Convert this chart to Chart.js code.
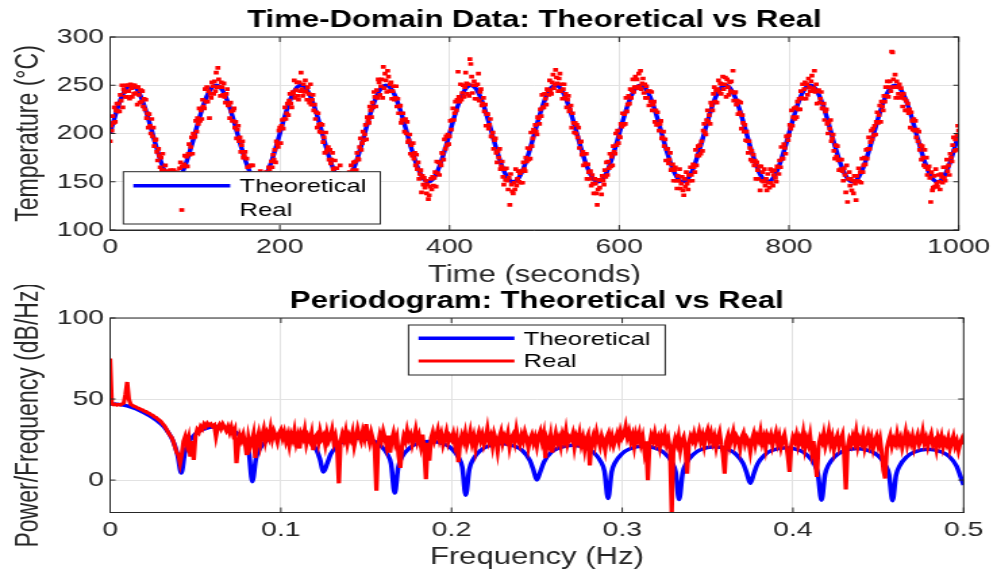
<!DOCTYPE html>
<html lang="en">
<head>
<meta charset="UTF-8">
<title>Theoretical vs Real</title>
<script src="https://cdn.jsdelivr.net/npm/chart.js"></script>
<style>
    html, body { margin: 0; padding: 0; background: #fff; }
    body { width: 997px; height: 571px; overflow: hidden; }
    canvas { display: block; }
</style>
</head>
<body>
<canvas id="timeChart" width="738" height="285" style="width:997px;height:285px"></canvas>
<canvas id="psdChart" width="738" height="286" style="width:997px;height:286px"></canvas>
<script>
// ---- time domain ----
const timeTicks = [0, 200, 400, 600, 800, 1000];
const tempTicks = [100, 150, 200, 250, 300];
const theoStep = 5;   // seconds between theoretical samples
const realStep = 1;   // seconds between measured samples

const theoreticalTemp = [
    200,215.5,229.4,240.5,247.6,250,247.6,240.5,229.4,215.5,200,184.5,170.6,159.5,152.4,150,152.4,159.5,170.6,184.5,
    200,215.5,229.4,240.5,247.6,250,247.6,240.5,229.4,215.5,200,184.5,170.6,159.5,152.4,150,152.4,159.5,170.6,184.5,
    200,215.5,229.4,240.5,247.6,250,247.6,240.5,229.4,215.5,200,184.5,170.6,159.5,152.4,150,152.4,159.5,170.6,184.5,
    200,215.5,229.4,240.5,247.6,250,247.6,240.5,229.4,215.5,200,184.5,170.6,159.5,152.4,150,152.4,159.5,170.6,184.5,
    200,215.5,229.4,240.5,247.6,250,247.6,240.5,229.4,215.5,200,184.5,170.6,159.5,152.4,150,152.4,159.5,170.6,184.5,
    200,215.5,229.4,240.5,247.6,250,247.6,240.5,229.4,215.5,200,184.5,170.6,159.5,152.4,150,152.4,159.5,170.6,184.5,
    200,215.5,229.4,240.5,247.6,250,247.6,240.5,229.4,215.5,200,184.5,170.6,159.5,152.4,150,152.4,159.5,170.6,184.5,
    200,215.5,229.4,240.5,247.6,250,247.6,240.5,229.4,215.5,200,184.5,170.6,159.5,152.4,150,152.4,159.5,170.6,184.5,
    200,215.5,229.4,240.5,247.6,250,247.6,240.5,229.4,215.5,200,184.5,170.6,159.5,152.4,150,152.4,159.5,170.6,184.5,
    200,215.5,229.4,240.5,247.6,250,247.6,240.5,229.4,215.5,200,184.5,170.6,159.5,152.4,150,152.4,159.5,170.6,184.5,
    200
];

const realTemp = [
    192,208,203,218,211,227,212,224,231,223, 231,223,240,234,250,227,246,243,238,250,
    238,250,244,236,251,247,238,250,241,250, 242,248,230,248,240,232,245,233,244,228,
    236,225,235,216,221,206,220,208,200,215, 197,206,187,193,194,181,172,184,177,165,
    175,162,179,162,156,167,158,147,161,156, 148,162,149,143,155,162,147,151,140,160,
    154,148,164,170,155,166,153,168,177,166, 176,166,179,189,178,186,196,179,200,196,

    197,213,202,216,210,226,213,224,215,235, 228,226,246,233,248,233,244,216,241,237,
    253,249,241,254,244,263,248,268,256,248, 239,253,248,240,252,238,232,241,246,229,
    230,216,232,223,213,224,226,206,212,195, 204,208,192,196,181,188,192,175,177,181,
    159,174,165,156,166,157,167,155,167,147, 155,159,147,152,141,156,148,161,138,156,
    151,146,158,146,160,155,147,165,163,156, 171,165,178,173,183,170,192,189,186,203,

    206,190,208,214,205,215,227,215,221,231, 219,234,241,231,227,243,241,255,237,245,
    253,239,235,253,244,263,246,239,251,243, 255,244,235,248,241,232,251,230,235,240,
    224,230,215,222,206,221,209,202,210,201, 209,191,196,180,201,181,183,186,173,183,
    169,173,180,163,164,172,158,164,153,159, 151,167,147,152,158,144,153,140,155,145,
    154,142,160,153,167,152,162,170,154,171, 162,180,174,173,186,195,183,190,202,193,

    199,209,194,217,213,211,228,224,217,232, 227,243,238,228,245,237,256,253,240,249,
    256,237,269,247,262,255,243,265,259,244, 251,253,236,244,249,235,237,249,228,236,
    221,228,229,211,214,221,214,202,215,200, 212,191,193,199,179,188,177,190,174,180,
    167,178,163,170,153,158,162,139,156,147, 154,144,151,138,147,132,136,145,153,142,
    155,146,154,160,145,171,159,170,157,170, 167,180,179,173,194,184,197,188,199,189,

    197,213,204,214,226,214,221,233,224,235, 264,238,233,251,235,242,250,238,248,263,
    252,241,251,239,277,272,259,242,250,254, 236,250,236,251,262,234,243,246,229,231,
    237,223,230,208,220,220,205,209,215,197, 197,201,184,193,195,180,170,182,175,184,
    163,166,171,155,147,163,152,164,151,142, 154,126,158,147,140,138,149,142,163,146,
    153,161,150,159,149,161,149,170,163,161, 175,171,185,173,184,174,201,187,195,204,

    202,209,202,199,217,216,210,225,218,240, 227,227,241,236,230,246,245,240,255,245,
    241,253,261,247,251,266,258,252,244,257, 262,244,251,236,246,251,237,241,227,235,
    239,223,225,229,206,221,211,201,211,200, 209,196,206,185,191,192,178,181,167,179,
    169,179,153,168,160,153,161,146,157,148, 138,153,148,138,126,142,152,144,152,137,
    156,151,147,162,155,170,157,171,164,179, 166,176,167,187,181,179,200,188,203,190,

    197,196,210,207,221,209,220,210,237,223, 230,239,231,246,237,245,256,243,248,259,
    248,256,247,262,249,265,246,252,257,242, 251,237,249,237,244,229,244,233,243,224,
    230,233,212,224,209,222,210,203,210,213, 195,196,202,187,194,172,184,184,169,173,
    180,162,163,168,151,162,165,151,143,156, 151,163,143,148,155,141,136,153,145,160,
    148,142,157,151,165,157,151,168,165,160, 183,167,177,187,177,188,179,192,182,203,

    210,201,199,214,224,212,219,210,232,229, 224,241,248,233,245,232,246,255,243,252,
    241,251,259,246,251,258,238,256,248,240, 253,244,254,243,265,234,242,243,230,234,
    220,233,222,232,205,219,211,202,209,193, 202,192,180,192,185,173,182,171,178,167,
    172,153,170,162,153,166,141,166,151,160, 150,163,146,153,141,158,149,144,163,149,
    161,146,157,162,154,150,166,165,158,172, 165,186,174,174,189,185,179,197,197,193,

    198,209,205,224,208,217,226,215,227,217, 233,225,236,225,244,237,251,236,246,253,
    236,251,240,257,248,244,254,260,244,247, 265,243,251,231,244,245,232,236,243,226,
    226,231,214,223,225,210,200,212,205,214, 192,195,199,182,174,188,176,187,172,162,
    173,163,173,161,151,164,157,139,167,129, 153,160,146,153,141,151,138,156,148,131,
    156,151,164,150,160,149,174,160,167,175, 168,183,174,184,196,184,191,203,194,205,

    198,208,199,212,222,211,219,229,212,233, 228,224,239,233,248,239,254,238,248,254,
    244,285,284,256,248,261,237,254,248,241, 251,237,247,239,228,241,236,224,234,224,
    231,221,225,206,222,213,204,215,203,213, 196,204,192,202,183,188,173,187,175,167,
    183,165,175,157,163,166,154,129,160,141, 144,156,145,163,148,145,157,150,142,158,
    155,149,165,154,151,165,173,161,167,157, 179,175,171,188,196,182,194,183,198,208,
    203
];

// ---- periodogram ----
const freqTicks = [0, 0.1, 0.2, 0.3, 0.4, 0.5];
const psdTicks = [0, 50, 100];
const freqStep = 0.001;  // Hz between periodogram bins

const theoFreq = [
    0, 0.005, 0.01, 0.015, 0.02, 0.025, 0.03, 0.033, 0.036, 0.038, 0.0396,
    0.0417, 0.0438, 0.0459, 0.05, 0.0542, 0.0625, 0.0708, 0.075, 0.0792, 0.0813,
    0.0833, 0.0854, 0.0875, 0.0917, 0.0958, 0.1042, 0.1125, 0.1167, 0.1208, 0.1229,
    0.125, 0.1271, 0.1292, 0.1333, 0.1375, 0.1458, 0.1542, 0.1583, 0.1625, 0.1646,
    0.1667, 0.1688, 0.1708, 0.175, 0.1792, 0.1875, 0.1958, 0.2, 0.2042, 0.2063,
    0.2083, 0.2104, 0.2125, 0.2167, 0.2208, 0.2292, 0.2375, 0.2417, 0.2458, 0.2479,
    0.25, 0.2521, 0.2542, 0.2583, 0.2625, 0.2708, 0.2792, 0.2833, 0.2875, 0.2896,
    0.2917, 0.2938, 0.2958, 0.3, 0.3042, 0.3125, 0.3208, 0.325, 0.3292, 0.3313,
    0.3333, 0.3354, 0.3375, 0.3417, 0.3458, 0.3542, 0.3625, 0.3667, 0.3708, 0.3729,
    0.375, 0.3771, 0.3792, 0.3833, 0.3875, 0.3958, 0.4042, 0.4083, 0.4125, 0.4146,
    0.4167, 0.4188, 0.4208, 0.425, 0.4292, 0.4375, 0.4458, 0.45, 0.4542, 0.4563,
    0.4583, 0.4604, 0.4625, 0.4667, 0.4708, 0.4792, 0.4875, 0.4917, 0.4958, 0.4979,
    0.5
];
const theoPsd = [
    47, 46.7, 45.8, 44, 41.5, 38.5, 34.5, 31, 26, 21, 15,
    4.3, 17, 23, 28.5, 31.2, 33, 31.2, 28.4, 22.8, 17,
    -1, 13, 19, 24.4, 27.2, 29, 27.2, 24.4, 18.8, 13,
    5, 10, 16, 21.4, 24.2, 26, 24.2, 21.4, 15.8, 10,
    -8, 8, 14, 19.4, 22.2, 24, 22.2, 19.4, 13.8, 8,
    -9.3, 6.5, 12.5, 18, 20.7, 22.5, 20.7, 18, 12.3, 6.5,
    0, 5.5, 11.3, 17, 19.7, 21.5, 19.7, 17, 11.3, 5.5,
    -11.3, 5, 10.8, 16.4, 19.2, 21, 19.2, 16.4, 10.8, 5,
    -12, 4.5, 10.3, 15.9, 18.7, 20.5, 18.7, 15.9, 10.3, 4.5,
    -2, 4, 9.8, 15.4, 18.2, 20, 18.2, 15.4, 9.8, 4,
    -12.4, 3.5, 9.3, 14.9, 17.7, 19.5, 17.7, 14.9, 9.3, 3.5,
    -12.8, 3, 8.8, 14.4, 17.2, 19, 17.2, 14.4, 8.8, 3,
    -3
];

const realPsd = [
    75,
    47,46.5,46.8,46.3,46.7,46.4,47,47.5,53,60.5,
    50,46.8,46.2,45.5,45.2,44.5,44.2,43.6,43.3,42.5,
    42.3,41.5,41.2,40.3,40,39,38.6,37.6,36.8,35.9,
    34.5,33.2,31.5,29.5,27.8,26.5,24,20.5,17,15.5,
    10.5,16,24,27,22,26,14.4,24,12.4,27,
    31,29.5,33,31.5,34.5,33,35,33.8,34.6,33.2,
    34,27,32.5,34.2,31.8,34.5,32.6,30.5,33,29.5,
    32.8,28.6,31,10.5,21,27.5,24.5,28,23,15.5,
    26,20.5,24,28.5,13.6,25,29,22,27.5,31.5,
    24,28.8,26,32,25.5,30,27,23.5,29,31,
    26,29.5,24,27.8,21.5,28,25,30.5,23,27,
    19.5,28.5,26,31,22.5,27,24.5,29,18.5,26.5,
    28,23,30,25.5,27.5,22,29,24,26.5,31,
    23.5,27,20,-2,24,28.5,25,30,22.5,27.5,
    25,29.5,21,26,31.5,27,24,30,26,34.5,
    27,23,29,25,19,-6.6,22,28,24.5,30,
    26,21,27.5,17,25,29,23,26.5,15,7.5,
    21,27,24,30.5,25.5,28,22,26,31,24,
    27.5,21.5,28,18,0.5,23,12,26,29.5,24,
    27,31,25,28.5,22,26,30,23.5,27,25,
    28.5,22,26,11,23,27.5,24,29,21.5,25,
    30,23,27,19.5,26,29.5,24.5,28,22,25.5,
    31.5,24,27,21,28.5,25,18,26.5,30,23,
    27,24.5,29,20.5,26,28,23.5,31,25,22,
    27.5,24,29.5,26,20,25.5,28,23,26.5,21,
    27,30,24,28.5,13.5,25,22,27.5,17,24.5,
    29,23,26,21,28,24.5,30.5,22.5,26.5,25,
    28.5,20.5,27,24,29,22,26,19,25.5,28,
    9,24,27.5,22.5,29.5,25,21,27,23.5,18.5,
    26.5,29,23,27,21.5,25,28.5,24,30,26,
    28,33,26.5,30,24,27.5,21,28.5,25,29,
    22.5,26.5,18,24,0,22,27.5,24.5,29,23,
    26,20.5,27,24,28.5,22,25.5,19,-20.4,21,
    25.5,22,27,18.5,24,26.5,20,4,22.5,27,
    24.5,28.5,23,26,30,24,27.5,21.5,28,31,
    25,29,23.5,27,20.5,26,29.5,22,16,4,
    24,27.5,21.5,26,30,23,27,25,19.5,26.5,
    29,22.5,26,24,17.5,25,28.5,22,27,24.5,
    30,23,26.5,20,27.5,25,28,21.5,26,29.5,
    23,27,20.5,25,28,22,15,5,21,26.5,
    24,28,21.5,26,23,29,20,25.5,22,27.5,
    18,24,12,2,21,26,23.5,28.5,21,25,
    30,22.5,26.5,19,24.5,27.5,21,25,28,16,
    -5.8,20,25,22,27,23.5,29.5,21,25.5,23,
    27.5,20,24.5,28,22,26,19.5,24,27,21.5,
    25.5,17,6,1,19.5,24,27.5,21,25,22.5,
    28.5,23,26,20,24.5,29.5,22,26.5,23,27,
    20.5,25,28,22,24.5,30,23,26,21,25.5,
    28.5,22,24,19,26.5,23,27,20.5,24.5,22,
    26,19.5,23.5,27,21,24,18.5,23,25.5,22
];

const axisColor = '#262626';
const gridColor = '#e2e2e2';
const fontFamily = '"Liberation Sans", Arial, Helvetica, sans-serif';
Chart.defaults.font.family = fontFamily;

// full box around the axes plus short inward tick marks
const axesBox = {
    id: 'axesBox',
    afterDatasetsDraw(chart) {
        const { ctx, chartArea: a, scales } = chart;
        ctx.save();
        ctx.strokeStyle = axisColor;
        ctx.lineWidth = 1;
        ctx.strokeRect(a.left, a.top, a.right - a.left, a.bottom - a.top);
        ctx.beginPath();
        scales.x.ticks.forEach(t => {
            const px = scales.x.getPixelForValue(t.value);
            ctx.moveTo(px, a.bottom); ctx.lineTo(px, a.bottom - 5);
            ctx.moveTo(px, a.top); ctx.lineTo(px, a.top + 5);
        });
        scales.y.ticks.forEach(t => {
            const py = scales.y.getPixelForValue(t.value);
            ctx.moveTo(a.left, py); ctx.lineTo(a.left + 4, py);
            ctx.moveTo(a.right, py); ctx.lineTo(a.right - 4, py);
        });
        ctx.stroke();
        ctx.restore();
    }
};

// legend drawn inside the axes like the original figure
const boxLegend = {
    id: 'boxLegend',
    afterDraw(chart, args, opts) {
        const { ctx, chartArea: a } = chart;
        const left = opts.center ? (a.left + a.right - opts.width) / 2 : a.left + opts.offsetX;
        const top = opts.fromBottom ? a.bottom - opts.offsetY - opts.height : a.top + opts.offsetY;
        ctx.save();
        ctx.fillStyle = '#fff';
        ctx.fillRect(left, top, opts.width, opts.height);
        ctx.strokeStyle = axisColor;
        ctx.lineWidth = 1;
        ctx.strokeRect(left, top, opts.width, opts.height);
        ctx.font = opts.fontSize + 'px ' + fontFamily;
        ctx.textBaseline = 'middle';
        opts.items.forEach((idx, row) => {
            const ds = chart.data.datasets[idx];
            const y = top + opts.firstRow + row * opts.rowGap;
            const x0 = left + opts.sampleLeft;
            const x1 = x0 + opts.sampleLength;
            if (ds.showLine === false) {
                const s = ds.pointRadius * Math.SQRT2;
                ctx.fillStyle = ds.backgroundColor;
                ctx.fillRect((x0 + x1) / 2 - s / 2, y - s / 2, s, s);
            } else {
                ctx.strokeStyle = ds.borderColor;
                ctx.lineWidth = ds.borderWidth;
                ctx.beginPath();
                ctx.moveTo(x0, y);
                ctx.lineTo(x1, y);
                ctx.stroke();
            }
            ctx.fillStyle = '#000';
            ctx.fillText(ds.label, left + opts.textLeft, y + 1);
        });
        ctx.restore();
    }
};

function xScale(min, max, ticks, title, height, titleLineHeight) {
    return {
        type: 'linear', min: min, max: max,
        afterBuildTicks: s => { s.ticks = ticks.map(v => ({ value: v })); },
        afterFit: s => { s.height = height; },
        ticks: { padding: 5, color: axisColor, font: { size: 21 }, maxRotation: 0, callback: v => String(v) },
        grid: { color: gridColor, drawTicks: false },
        border: { color: axisColor, width: 1 },
        title: { display: true, text: title, color: axisColor, font: { size: 23, lineHeight: titleLineHeight }, padding: 0 }
    };
}

function yScale(min, max, ticks, title) {
    return {
        min: min, max: max,
        afterBuildTicks: s => { s.ticks = ticks.map(v => ({ value: v })); },
        afterFit: s => { s.width = 81.5; },
        ticks: { padding: 4.5, color: axisColor, font: { size: 21 }, callback: v => String(v) },
        grid: { color: gridColor, drawTicks: false },
        border: { color: axisColor, width: 1 },
        title: { display: true, text: title, color: axisColor, font: { size: 23 }, padding: { top: 7.5, bottom: 0 } }
    };
}

new Chart(document.getElementById('timeChart'), {
    type: 'scatter',
    data: {
        datasets: [{
            label: 'Theoretical',
            data: theoreticalTemp.map((v, i) => ({ x: i * theoStep, y: v })),
            showLine: true,
            borderColor: '#0000ff',
            borderWidth: 3.5,
            pointRadius: 0,
            cubicInterpolationMode: 'monotone',
            order: 1
        }, {
            label: 'Real',
            data: realTemp.map((v, i) => ({ x: i * realStep, y: v })),
            showLine: false,
            backgroundColor: '#ff0000',
            pointStyle: 'rect',
            pointRadius: 2.6,
            pointBorderWidth: 0,
            order: 0
        }]
    },
    options: {
        responsive: false,
        animation: false,
        devicePixelRatio: 1,
        layout: { padding: { left: 0, right: 24.7, top: 0, bottom: 0 } },
        plugins: {
            legend: { display: false },
            tooltip: { enabled: false },
            title: {
                display: true, fullSize: false, text: 'Time-Domain Data: Theoretical vs Real', color: '#000',
                font: { size: 23, weight: 'bold' }, padding: { top: 6.7, bottom: 2.7 }
            },
            boxLegend: {
                items: [0, 1], offsetX: 9.8, offsetY: 6, fromBottom: true,
                width: 190.2, height: 52.3, firstRow: 14, rowGap: 24.3,
                sampleLeft: 7.4, sampleLength: 71.7, textLeft: 86, fontSize: 19
            }
        },
        scales: {
            x: xScale(0, 1000, timeTicks, 'Time (seconds)', 55, 0.8),
            y: yScale(100, 300, tempTicks, 'Temperature (°C)')
        }
    },
    plugins: [axesBox, boxLegend]
});

new Chart(document.getElementById('psdChart'), {
    type: 'scatter',
    data: {
        datasets: [{
            label: 'Theoretical',
            data: theoPsd.map((v, i) => ({ x: theoFreq[i], y: v })),
            showLine: true,
            borderColor: '#0000ff',
            borderWidth: 3.5,
            pointRadius: 0,
            cubicInterpolationMode: 'monotone',
            order: 1
        }, {
            label: 'Real',
            data: realPsd.map((v, i) => ({ x: i * freqStep, y: v })),
            showLine: true,
            borderColor: '#ff0000',
            borderWidth: 3.2,
            pointRadius: 0,
            order: 0
        }]
    },
    options: {
        responsive: false,
        animation: false,
        devicePixelRatio: 1,
        layout: { padding: { left: 0, right: 24.7, top: 0, bottom: 0 } },
        plugins: {
            legend: { display: false },
            tooltip: { enabled: false },
            title: {
                display: true, fullSize: false, text: 'Periodogram: Theoretical vs Real', color: '#000',
                font: { size: 23, weight: 'bold' }, padding: { top: 3.2, bottom: 2.2 }
            },
            boxLegend: {
                items: [0, 1], center: true, offsetY: 7,
                width: 190, height: 50, firstRow: 13.3, rowGap: 22.7,
                sampleLeft: 7.4, sampleLength: 71, textLeft: 85.2, fontSize: 19
            }
        },
        scales: {
            x: xScale(0, 0.5, freqTicks, 'Frequency (Hz)', 58.5, 1.2),
            y: yScale(-20, 100, psdTicks, 'Power/Frequency (dB/Hz)')
        }
    },
    plugins: [axesBox, boxLegend]
});
</script>
</body>
</html>
